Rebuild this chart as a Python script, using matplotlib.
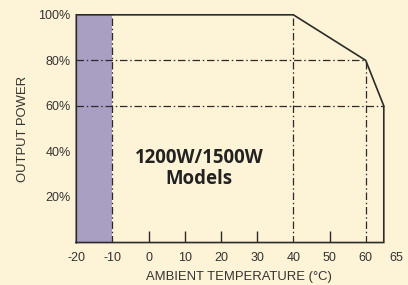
import matplotlib
matplotlib.use("Agg")
import matplotlib.pyplot as plt

# ── Data ──────────────────────────────────────────────────────────────────────
# derating curve: ambient temperature (°C) -> output power (%)
curve_temp  = [-20, -20, 40, 60, 65, 65]
curve_power = [0, 100, 100, 80, 60, 0]

shade_span  = (-20, -10)          # purple region (below rated range)

# dash-dot guide lines
hguides = [(80, -20, 60), (60, -20, 65)]              # (y, x0, x1)
vguides = [(-10, 0, 100), (40, 0, 100), (60, 0, 80)]  # (x, y0, y1)

xtick_vals   = [-20, -10, 0, 10, 20, 30, 40, 50, 60]
xtick_labels = ["-20", "-10", "0", "10", "20", "30", "40", "50", "60"]
solid_ticks  = [0, 10, 20, 30, 50]
last_label   = "65"
last_label_x = 68.4              # printed a bit right of the 65 line in the original
ytick_vals   = [20, 40, 60, 80, 100]
ytick_labels = ["20%", "40%", "60%", "80%", "100%"]

# ── Style ─────────────────────────────────────────────────────────────────────
BG     = "#fdf3d6"
PURPLE = "#a99fc3"
INK    = "#2b2b2b"
TXT    = "#333333"
DASHES = (6, 2.2, 1.2, 2.2)
TICK_FS  = 9.0
LABEL_FS = 9.4

plt.rcParams["font.family"] = ["Liberation Sans", "DejaVu Sans"]

fig = plt.figure(figsize=(4.08, 2.85), dpi=100, facecolor=BG)
ax = fig.add_axes([0.187, 0.149, 0.798, 0.799])
ax.set_facecolor(BG)
ax.set_xlim(-20, 70)
ax.set_ylim(0, 100)
for s in ax.spines.values():
    s.set_visible(False)

# shaded region
ax.axvspan(*shade_span, ymin=0, ymax=1, color=PURPLE, lw=0, zorder=1)

# guides
for y, x0, x1 in hguides:
    ax.plot([x0, x1], [y, y], color=INK, lw=0.9, dashes=DASHES, zorder=2)
for x, y0, y1 in vguides:
    ax.plot([x, x], [y0, y1], color=INK, lw=0.9, dashes=DASHES, zorder=2)

# small inward ticks on the bottom axis
ax.vlines(solid_ticks, 0, 5, color=INK, lw=1.0, zorder=3)

# outline of the derating envelope
ax.plot(curve_temp + [curve_temp[0]], curve_power + [curve_power[0]],
        color=INK, lw=1.2, solid_joinstyle="miter", zorder=4, clip_on=False)

ax.set_xticks(xtick_vals, xtick_labels)
ax.set_yticks(ytick_vals, ytick_labels)
ax.tick_params(axis="both", length=0, labelsize=TICK_FS, colors=TXT)
ax.tick_params(axis="x", pad=7)
ax.tick_params(axis="y", pad=4)
ax.annotate(last_label, xy=(last_label_x, 0), xycoords=("data", "axes fraction"),
            xytext=(0, -7), textcoords="offset points", ha="center", va="top",
            fontsize=TICK_FS, color=TXT, annotation_clip=False)

ax.set_xlabel("AMBIENT TEMPERATURE (°C)", fontsize=LABEL_FS, color=TXT, labelpad=5)
ax.set_ylabel("OUTPUT POWER", fontsize=LABEL_FS, color=TXT, labelpad=7)

ax.text(13.9, 32.5, "1200W/1500W\nModels", ha="center", va="center",
        fontsize=13.4, fontweight="bold", color="#222222",
        family=["Open Sans", "DejaVu Sans"], linespacing=1.1)

fig.savefig("out.png", dpi=100, facecolor=BG)
